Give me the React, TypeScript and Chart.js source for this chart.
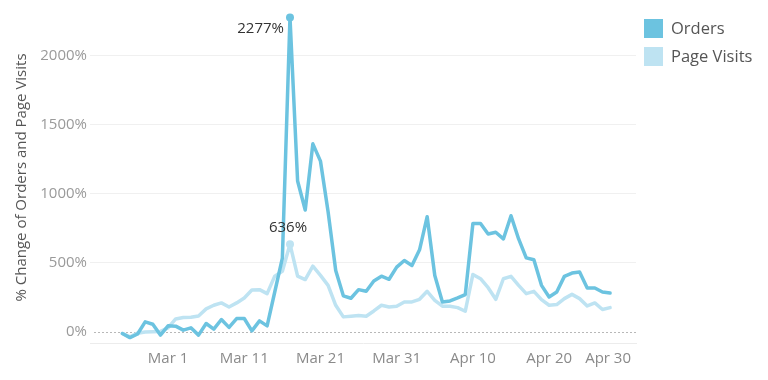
import { useEffect, useRef } from 'react';
import { Chart, registerables } from 'chart.js';

Chart.register(...registerables);

const dates = [
  'Feb 24', 'Feb 25', 'Feb 26', 'Feb 27', 'Feb 28', 'Feb 29',
  'Mar 1', 'Mar 2', 'Mar 3', 'Mar 4', 'Mar 5', 'Mar 6', 'Mar 7', 'Mar 8', 'Mar 9', 'Mar 10',
  'Mar 11', 'Mar 12', 'Mar 13', 'Mar 14', 'Mar 15', 'Mar 16', 'Mar 17', 'Mar 18', 'Mar 19', 'Mar 20',
  'Mar 21', 'Mar 22', 'Mar 23', 'Mar 24', 'Mar 25', 'Mar 26', 'Mar 27', 'Mar 28', 'Mar 29', 'Mar 30',
  'Mar 31', 'Apr 1', 'Apr 2', 'Apr 3', 'Apr 4', 'Apr 5', 'Apr 6', 'Apr 7', 'Apr 8', 'Apr 9',
  'Apr 10', 'Apr 11', 'Apr 12', 'Apr 13', 'Apr 14', 'Apr 15', 'Apr 16', 'Apr 17', 'Apr 18', 'Apr 19',
  'Apr 20', 'Apr 21', 'Apr 22', 'Apr 23', 'Apr 24', 'Apr 25', 'Apr 26', 'Apr 27', 'Apr 28',
];

const orders = [
  -10, -40, -14, 74, 57, -22,
  45, 43, 14, 31, -22, 62, 21, 91, 34, 98,
  98, 9, 81, 45, 290, 535, 2277, 1093, 883, 1362,
  1237, 870, 446, 262, 245, 307, 295, 370, 404, 382,
  470, 518, 482, 595, 835, 410, 218, 225, 247, 271,
  786, 786, 710, 722, 674, 842, 674, 537, 523, 338,
  254, 290, 403, 427, 434, 319, 319, 290, 283,
];

const pageVisits = [
  -10, -35, -8, 0, 2, 5,
  30, 95, 105, 108, 117, 168, 194, 211, 182, 211,
  247, 305, 307, 278, 405, 440, 636, 405, 380, 477,
  410, 338, 194, 110, 115, 120, 115, 153, 194, 182,
  187, 218, 218, 237, 295, 230, 187, 187, 177, 151,
  417, 386, 321, 237, 386, 403, 338, 278, 295, 235,
  194, 199, 242, 273, 242, 189, 211, 163, 177,
];

const xTickLabels = ['Mar 1', 'Mar 11', 'Mar 21', 'Mar 31', 'Apr 10', 'Apr 20', 'Apr 30'];
const yTickValues = [0, 500, 1000, 1500, 2000];

const seriesNames = ['Orders', 'Page Visits'];
const ORDERS_COLOR = '#6CC3E0';
const VISITS_COLOR = '#BEE3F2';
const FONT = '"Open Sans", sans-serif';

const MONTH_START: Record<string, number> = { Jan: 0, Feb: 31, Mar: 60, Apr: 91, May: 121 };
function dayNum(s: string): number {
  const [m, d] = s.split(' ');
  return MONTH_START[m] + Number(d);
}

function maxIndex(arr: number[]): number {
  let best = 0;
  arr.forEach((v, i) => { if (v > arr[best]) best = i; });
  return best;
}

const overlayPlugin = {
  id: 'overlay',
  beforeDatasetsDraw(chart: any) {
    const { ctx, chartArea, scales } = chart;
    const y0 = Math.round(scales.y.getPixelForValue(0)) + 0.5;
    ctx.save();
    ctx.strokeStyle = '#b8b8b8';
    ctx.lineWidth = 1;
    ctx.setLineDash([2, 2]);
    ctx.beginPath();
    ctx.moveTo(chartArea.left + 4, y0);
    ctx.lineTo(chartArea.right, y0);
    ctx.stroke();
    ctx.restore();
  },
  afterDraw(chart: any) {
    const { ctx, chartArea, scales } = chart;
    ctx.save();
    // x tick labels (kept inside the plot on the right edge)
    ctx.font = `15px ${FONT}`;
    ctx.fillStyle = '#8a8a8a';
    ctx.textAlign = 'center';
    ctx.textBaseline = 'middle';
    xTickLabels.forEach((lab) => {
      const w = ctx.measureText(lab).width;
      let px = scales.x.getPixelForValue(dayNum(lab));
      px = Math.min(px, chartArea.right - 5 - w / 2);
      ctx.fillText(lab, px, chartArea.bottom + 16);
    });

    // peak labels
    ctx.fillStyle = '#333';
    chart.data.datasets.forEach((ds: any, i: number) => {
      const meta = chart.getDatasetMeta(i);
      const idx = maxIndex(ds.data.map((p: any) => p.y));
      const pt = meta.data[idx];
      const txt = `${ds.data[idx].y}%`;
      if (i === 0) {
        ctx.textAlign = 'right';
        ctx.fillText(txt, pt.x - 6, pt.y + 11);
      } else {
        ctx.textAlign = 'center';
        ctx.fillText(txt, pt.x - 2, pt.y - 16);
      }
    });

    // legend
    ctx.textAlign = 'left';
    ctx.font = `16.5px ${FONT}`;
    chart.data.datasets.forEach((ds: any, i: number) => {
      const lx = chartArea.right + 8;
      const ly = 19 + i * 28;
      ctx.fillStyle = ds.borderColor;
      ctx.fillRect(lx, ly, 19, 19);
      ctx.fillStyle = '#555';
      ctx.fillText(ds.label, lx + 27, ly + 10);
    });
    ctx.restore();
  },
};

export default function App() {
  const ref = useRef<HTMLCanvasElement | null>(null);

  useEffect(() => {
    if (!ref.current) return;
    const oIdx = maxIndex(orders);
    const vIdx = maxIndex(pageVisits);
    const firstX = dayNum(dates[0]);
    const lastX = dayNum(dates[dates.length - 1]);
    const chart = new Chart(ref.current, {
      type: 'line',
      data: {
        datasets: [
          {
            label: seriesNames[0],
            data: dates.map((d, i) => ({ x: dayNum(d), y: orders[i] })),
            borderColor: ORDERS_COLOR,
            backgroundColor: ORDERS_COLOR,
            borderWidth: 3.5,
            tension: 0,
            borderJoinStyle: 'round',
            borderCapStyle: 'round',
            pointRadius: (c: any) => (c.dataIndex === oIdx ? 4 : 0),
            pointBorderWidth: 0,
            pointHoverRadius: 0,
          },
          {
            label: seriesNames[1],
            data: dates.map((d, i) => ({ x: dayNum(d), y: pageVisits[i] })),
            borderColor: VISITS_COLOR,
            backgroundColor: VISITS_COLOR,
            borderWidth: 3.5,
            tension: 0,
            borderJoinStyle: 'round',
            borderCapStyle: 'round',
            pointRadius: (c: any) => (c.dataIndex === vIdx ? 4 : 0),
            pointBorderWidth: 0,
            pointHoverRadius: 0,
          },
        ],
      },
      options: {
        animation: false,
        responsive: true,
        maintainAspectRatio: false,
        layout: { padding: { top: 10, right: 132, left: 0, bottom: 0 } },
        plugins: { legend: { display: false }, tooltip: { enabled: false } },
        scales: {
          x: {
            type: 'linear',
            min: firstX - 4.24,
            max: lastX + 3.4,
            grid: { display: false },
            border: { display: true, color: '#ececec', dash: [2, 3] },
            ticks: { display: false },
            afterFit: (s: any) => { s.height = 37; },
          },
          y: {
            min: -79,
            max: 2316,
            afterBuildTicks: (s: any) => { s.ticks = yTickValues.map((v) => ({ value: v })); },
            ticks: {
              callback: (v: any) => `${v}%`,
              color: '#9a9a9a',
              font: { family: FONT, size: 15 },
              padding: 3,
            },
            grid: {
              color: (c: any) => (c.tick && c.tick.value === 0 ? 'rgba(0,0,0,0)' : '#f0f0f0'),
              drawTicks: false,
              lineWidth: 1,
            },
            border: { display: false },
            title: {
              display: true,
              text: '% Change of Orders and Page Visits',
              color: '#555',
              font: { family: FONT, size: 15 },
              padding: { top: 13, bottom: 0 },
            },
            afterFit: (s: any) => { s.width = 90; },
          },
        },
      },
      plugins: [overlayPlugin],
    });
    return () => chart.destroy();
  }, []);

  return (
    <div style={{ position: 'fixed', left: 0, top: 0, width: 768, height: 380, background: '#fff' }}>
      <canvas ref={ref} />
    </div>
  );
}
